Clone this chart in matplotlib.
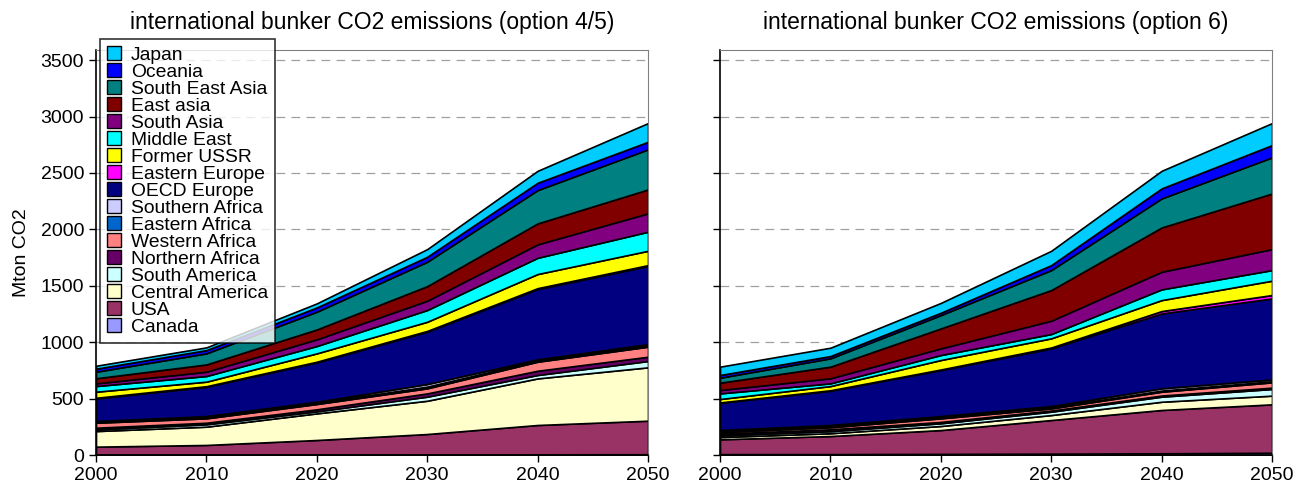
import numpy as np
import matplotlib
matplotlib.use('Agg')
import matplotlib.pyplot as plt
from matplotlib.patches import Patch

plt.rcParams['font.family'] = ['Liberation Sans', 'DejaVu Sans']

years = [2000, 2010, 2020, 2030, 2040, 2050]

# regions, bottom of the stack first
regions = ['Canada', 'USA', 'Central America', 'South America', 'Northern Africa',
           'Western Africa', 'Eastern Africa', 'Southern Africa', 'OECD Europe',
           'Eastern Europe', 'Former USSR', 'Middle East', 'South Asia', 'East asia',
           'South East Asia', 'Oceania', 'Japan']
colors = ['#9999FF', '#993366', '#FFFFCC', '#CCFFFF', '#660066',
          '#FF8080', '#0066CC', '#CCCCFF', '#000080',
          '#FF00FF', '#FFFF00', '#00FFFF', '#800080', '#800000',
          '#008080', '#0000FF', '#00CCFF']

# option 4/5 (Mton CO2)
opt45 = {
    'Canada':          [3, 3, 4, 5, 6, 7],
    'USA':             [71, 86, 129, 181, 260, 297],
    'Central America': [138, 162, 236, 295, 413, 473],
    'South America':   [15, 21, 18, 36, 30, 56],
    'Northern Africa': [15, 14, 18, 29, 38, 38],
    'Western Africa':  [44, 39, 47, 45, 80, 89],
    'Eastern Africa':  [7, 8, 10, 15, 10, 10],
    'Southern Africa': [8, 12, 10, 23, 11, 13],
    'OECD Europe':     [201, 260, 349, 464, 623, 692],
    'Eastern Europe':  [5, 5, 6, 7, 8, 8],
    'Former USSR':     [54, 40, 74, 81, 125, 127],
    'Middle East':     [50, 50, 65, 104, 144, 169],
    'South Asia':      [24, 38, 59, 82, 119, 163],
    'East asia':       [45, 65, 88, 130, 186, 212],
    'South East Asia': [58, 98, 157, 216, 295, 355],
    'Oceania':         [27, 29, 38, 44, 65, 67],
    'Japan':           [26, 24, 36, 68, 106, 166],
}

# option 6 (Mton CO2)
opt6 = {
    'Canada':          [8, 8, 10, 12, 15, 20],
    'USA':             [131, 160, 211, 298, 384, 429],
    'Central America': [20, 25, 36, 44, 73, 77],
    'South America':   [15, 18, 24, 30, 45, 59],
    'Northern Africa': [15, 17, 12, 10, 10, 12],
    'Western Africa':  [15, 18, 32, 19, 34, 47],
    'Eastern Africa':  [8, 8, 8, 8, 10, 10],
    'Southern Africa': [10, 12, 12, 13, 20, 16],
    'OECD Europe':     [241, 304, 408, 511, 664, 718],
    'Eastern Europe':  [3, 4, 5, 8, 21, 30],
    'Former USSR':     [30, 37, 84, 81, 97, 127],
    'Middle East':     [50, 24, 44, 38, 95, 94],
    'South Asia':      [30, 45, 59, 118, 156, 186],
    'East asia':       [65, 103, 177, 272, 393, 493],
    'South East Asia': [44, 74, 118, 177, 257, 320],
    'Oceania':         [24, 20, 21, 44, 89, 109],
    'Japan':           [74, 74, 87, 127, 156, 195],
}

titles = ['international bunker CO2 emissions (option 4/5)',
          'international bunker CO2 emissions (option 6)']

fig = plt.figure(figsize=(13.07, 4.91), dpi=100)
ax1 = fig.add_axes([96/1307, 36/491, 552/1307, 405/491])
ax2 = fig.add_axes([720/1307, 36/491, 552/1307, 405/491])

for ax, data, title in zip([ax1, ax2], [opt45, opt6], titles):
    vals = [data[r] for r in regions]
    ax.stackplot(years, vals, colors=colors, edgecolor='black', linewidth=1.2)
    ax.set_xlim(2000, 2050)
    ax.set_ylim(0, 3590)
    ax.set_xticks(years)
    ax.set_yticks(np.arange(0, 3501, 500))
    for yv in range(500, 3501, 500):
        ax.axhline(yv, color='#a0a0a0', linestyle=(0, (7, 5)), linewidth=0.9, zorder=0)
    ax.tick_params(direction='out', length=5, width=1, labelsize=14, colors='black')
    ax.spines['left'].set_color('black')
    ax.spines['bottom'].set_color('black')
    ax.spines['left'].set_linewidth(1.2)
    ax.spines['bottom'].set_linewidth(1.2)
    ax.spines['top'].set_color('#808080')
    ax.spines['right'].set_color('#808080')
    ax.set_title(title, fontsize=16.5, pad=15)

ax1.set_ylabel('Mton CO2', fontsize=14, labelpad=8)
ax2.tick_params(axis='y', labelleft=False)

handles = [Patch(facecolor=c, edgecolor='black', linewidth=1) for c in colors[::-1]]
leg = fig.legend(handles, regions[::-1], loc='upper left',
                 bbox_to_anchor=(100/1307, 1 - 39/491), fontsize=13.9,
                 frameon=True, fancybox=False, edgecolor='black',
                 handlelength=0.75, handleheight=0.75, handletextpad=0.5,
                 labelspacing=-0.04, borderpad=0.35, borderaxespad=0)
leg.get_frame().set_linewidth(1.2)

fig.savefig('out.png', dpi=100)
